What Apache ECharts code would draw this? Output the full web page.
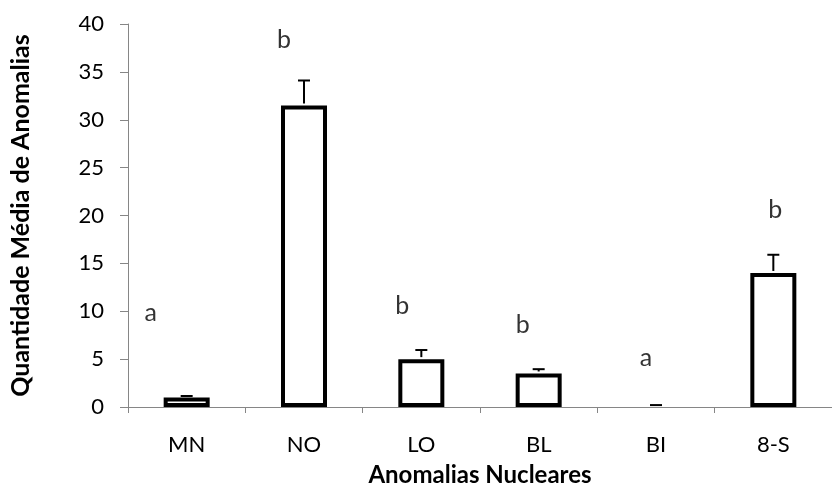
<!DOCTYPE html>
<html>
<head>
<meta charset="utf-8">
<script src="https://cdn.jsdelivr.net/npm/echarts@6/dist/echarts.min.js"></script>
<style>
    html, body { margin: 0; padding: 0; background: #fff; }
    #chart { width: 832px; height: 492px; }
</style>
</head>
<body>
<div id="chart"></div>
<script>
// dados
var categorias = ['MN', 'NO', 'LO', 'BL', 'BI', '8-S'];
var medias = [1.0, 31.5, 5.0, 3.5, 0, 14.0];
var erros = [0.15, 2.6, 0.95, 0.45, 0.2, 1.9];
var letras = ['a', 'b', 'b', 'b', 'a', 'b'];
var alturaLetras = [9.8, 38.3, 10.6, 8.6, 5.1, 20.6];
var ticksY = [0, 5, 10, 15, 20, 25, 30, 35, 40];

// deslocamento horizontal das letras (px)
var desloc = [-36, -20, -19, -16, -10, 2];

var fonte = 'Lato, "Open Sans", sans-serif';
var cinza = '#868686';

var chart = echarts.init(document.getElementById('chart'));

var option = {
    animation: false,
    grid: { left: 128, right: -9, top: 24, bottom: 85 },
    xAxis: {
        type: 'category',
        data: categorias,
        name: 'Anomalias Nucleares',
        nameLocation: 'middle',
        nameGap: 56,
        nameTextStyle: { fontFamily: fonte, fontSize: 24, fontWeight: 'bold', color: '#000' },
        axisLine: { lineStyle: { color: cinza, width: 1 } },
        axisTick: { show: true, length: 6, lineStyle: { color: cinza } },
        axisLabel: { fontFamily: fonte, fontSize: 22, color: '#000', margin: 27 }
    },
    yAxis: {
        type: 'value',
        min: ticksY[0],
        max: ticksY[ticksY.length - 1],
        interval: 5,
        name: 'Quantidade Média de Anomalias',
        nameLocation: 'middle',
        nameGap: 95,
        nameTextStyle: { fontFamily: fonte, fontSize: 25, fontWeight: 'bold', color: '#000' },
        axisLine: { show: true, lineStyle: { color: cinza, width: 1 } },
        axisTick: { show: true, length: 8, lineStyle: { color: cinza } },
        axisLabel: { fontFamily: fonte, fontSize: 22, color: '#000', margin: 24 },
        splitLine: { show: false }
    },
    series: [
        {
            type: 'bar',
            barWidth: 46,
            data: medias.map(function (v) {
                return { value: v, itemStyle: { borderWidth: v === 0 ? 0 : 4 } };
            }),
            itemStyle: { color: '#fff', borderColor: '#000', borderWidth: 4 },
            z: 2
        },
        {
            type: 'custom',
            data: medias.map(function (v, i) { return [i, v, v + erros[i]]; }),
            renderItem: function (params, api) {
                var base = api.coord([api.value(0), api.value(1)]);
                var top = api.coord([api.value(0), api.value(2)]);
                var x = base[0];
                var cap = 6;
                return {
                    type: 'group',
                    children: [
                        { type: 'line', shape: { x1: x, y1: base[1] - 2, x2: x, y2: top[1] }, style: { stroke: '#000', lineWidth: 2 } },
                        { type: 'line', shape: { x1: x - cap, y1: top[1], x2: x + cap, y2: top[1] }, style: { stroke: '#000', lineWidth: 2 } }
                    ]
                };
            },
            z: 3
        },
        {
            type: 'scatter',
            symbolSize: 0,
            data: alturaLetras.map(function (v, i) {
                return {
                    value: [i, v],
                    label: { offset: [desloc[i], 0] }
                };
            }),
            label: {
                show: true,
                position: 'inside',
                fontFamily: fonte,
                fontSize: 25,
                color: '#000',
                formatter: function (p) { return letras[p.dataIndex]; }
            },
            z: 4
        }
    ]
};

chart.setOption(option);

window.addEventListener('resize', function () {
    chart.resize();
});
</script>
</body>
</html>
